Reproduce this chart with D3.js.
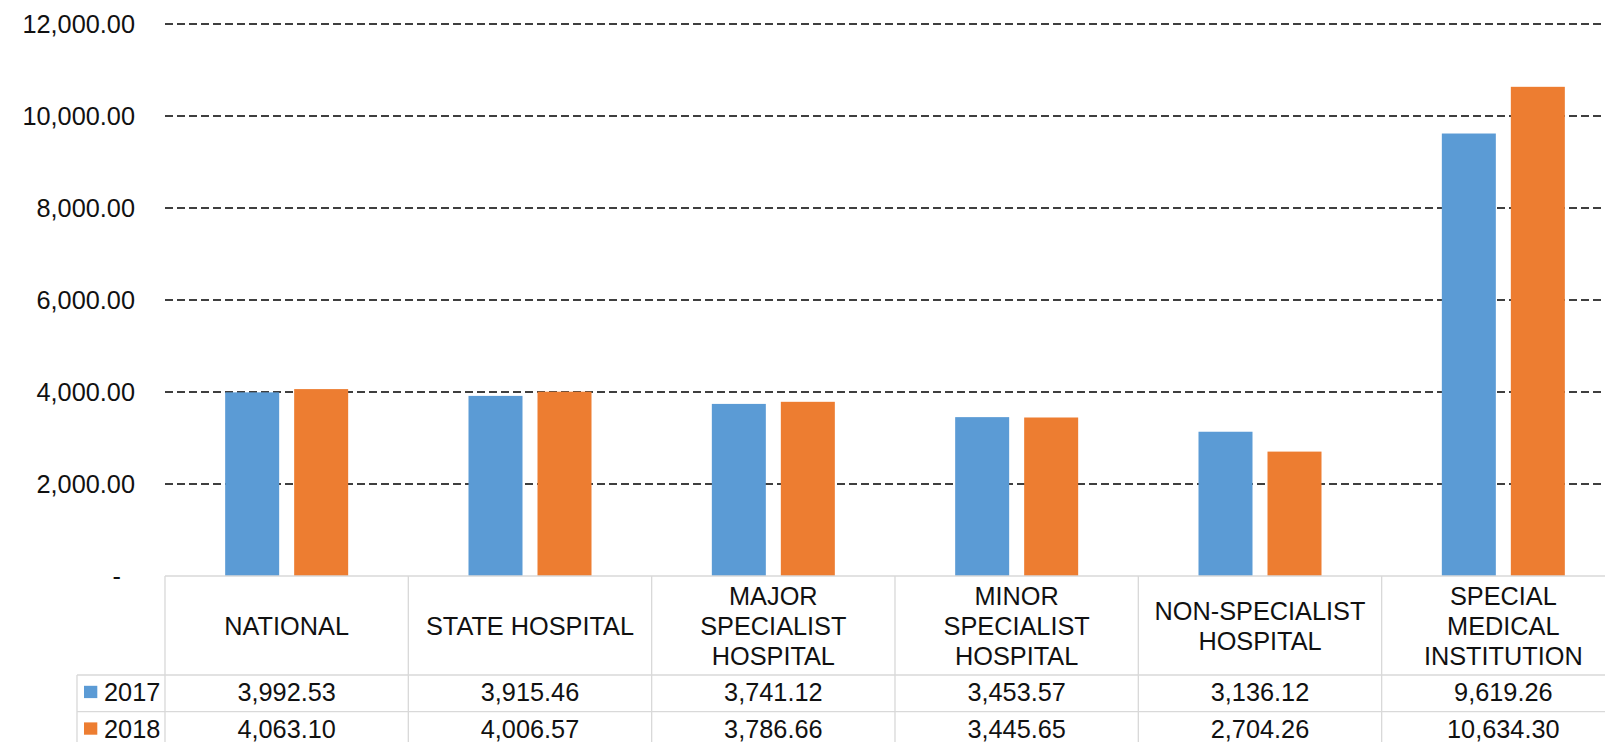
<!DOCTYPE html>
<html>
<head>
<meta charset="utf-8">
<script src="https://cdn.jsdelivr.net/npm/d3@7"></script>
<style>
  html, body { margin: 0; padding: 0; background: #fff; overflow: hidden; }
  svg { display: block; font-family: "Liberation Sans", Arial, sans-serif; }
</style>
</head>
<body>
<svg id="chart" width="1605" height="742"></svg>
<script>
const categories = [
  ["NATIONAL"],
  ["STATE HOSPITAL"],
  ["MAJOR", "SPECIALIST", "HOSPITAL"],
  ["MINOR", "SPECIALIST", "HOSPITAL"],
  ["NON-SPECIALIST", "HOSPITAL"],
  ["SPECIAL", "MEDICAL", "INSTITUTION"]
];
const seriesNames = ["2017", "2018"];
const values2017 = [3992.53, 3915.46, 3741.12, 3453.57, 3136.12, 9619.26];
const values2018 = [4063.10, 4006.57, 3786.66, 3445.65, 2704.26, 10634.30];
const tableLabels2017 = ["3,992.53", "3,915.46", "3,741.12", "3,453.57", "3,136.12", "9,619.26"];
const tableLabels2018 = ["4,063.10", "4,006.57", "3,786.66", "3,445.65", "2,704.26", "10,634.30"];
const yTicks = [0, 2000, 4000, 6000, 8000, 10000, 12000];
const yTickLabels = ["-", "2,000.00", "4,000.00", "6,000.00", "8,000.00", "10,000.00", "12,000.00"];
const colors = ["#5B9BD5", "#ED7D31"];

const seriesValues = [values2017, values2018];
const seriesTable = [tableLabels2017, tableLabels2018];

const svg = d3.select("#chart");
const plotLeft = 165, plotRight = 1625, plotTop = 24, plotBottom = 576;
const fontSize = 25.3;
const catKeys = categories.map(c => c.join(" "));

const x = d3.scaleBand().domain(catKeys).range([plotLeft, plotRight]).paddingInner(0).paddingOuter(0);
const groupW = 123;
const x1 = d3.scaleBand().domain(seriesNames)
  .range([(x.bandwidth() - groupW) / 2, (x.bandwidth() + groupW) / 2])
  .paddingInner(15 / 69).paddingOuter(0);
const y = d3.scaleLinear().domain([0, 12000]).range([plotBottom, plotTop]);

// gridlines
svg.append("g").selectAll("line")
  .data(yTicks.filter(d => d > 0))
  .join("line")
  .attr("x1", plotLeft).attr("x2", plotRight)
  .attr("y1", d => y(d)).attr("y2", d => y(d))
  .attr("stroke", "#000").attr("stroke-width", 1.3)
  .attr("stroke-dasharray", "8,4");

// y labels
svg.append("g").selectAll("text")
  .data(yTicks)
  .join("text")
  .attr("x", (d) => d === 0 ? 121 : 135)
  .attr("y", d => y(d))
  .attr("dy", "0.36em")
  .attr("text-anchor", "end")
  .attr("font-size", fontSize)
  .attr("fill", "#111")
  .text((d, i) => yTickLabels[i]);

// bars
const bars = [];
seriesNames.forEach((s, si) => {
  seriesValues[si].forEach((v, ci) => bars.push({ s, si, cat: catKeys[ci], v }));
});
svg.append("g").selectAll("rect")
  .data(bars)
  .join("rect")
  .attr("x", d => x(d.cat) + x1(d.s))
  .attr("width", x1.bandwidth())
  .attr("y", d => y(d.v))
  .attr("height", d => y(0) - y(d.v))
  .attr("fill", d => colors[d.si]);

// data table
const headerTop = plotBottom, headerBottom = 675, rowH = 36.6;
const rowTops = [headerBottom, headerBottom + rowH];
const tableBottom = headerBottom + 2 * rowH;
const legendLeft = 77;
const grid = svg.append("g").attr("stroke", "#d9d9d9").attr("stroke-width", 1.33);

grid.append("line").attr("x1", plotLeft).attr("x2", plotRight).attr("y1", headerTop).attr("y2", headerTop);
[headerBottom, headerBottom + rowH, tableBottom].forEach(yy => {
  grid.append("line").attr("x1", legendLeft).attr("x2", plotRight).attr("y1", yy).attr("y2", yy);
});
grid.append("line").attr("x1", legendLeft).attr("x2", legendLeft).attr("y1", headerBottom).attr("y2", tableBottom);
const vlines = catKeys.map(k => x(k)).concat([plotRight]);
grid.selectAll("line.v").data(vlines).join("line").attr("class", "v")
  .attr("x1", d => d).attr("x2", d => d).attr("y1", headerTop).attr("y2", tableBottom);

// header labels
const headerMid = (headerTop + headerBottom) / 2;
const lineH = 30;
const hdr = svg.append("g").attr("font-size", fontSize).attr("fill", "#111").attr("text-anchor", "middle");
categories.forEach((lines, ci) => {
  const cx = x(catKeys[ci]) + x.bandwidth() / 2;
  lines.forEach((ln, li) => {
    hdr.append("text")
      .attr("x", cx)
      .attr("y", headerMid + (li - (lines.length - 1) / 2) * lineH)
      .attr("dy", "0.36em")
      .text(ln);
  });
});

// rows
seriesNames.forEach((s, si) => {
  const mid = rowTops[si] + rowH / 2 - 1.2;
  svg.append("rect")
    .attr("x", 84).attr("y", mid - 6.3).attr("width", 13.3).attr("height", 12.3)
    .attr("fill", colors[si]);
  svg.append("text")
    .attr("x", 104).attr("y", mid).attr("dy", "0.36em")
    .attr("font-size", fontSize).attr("fill", "#111")
    .text(s);
  seriesTable[si].forEach((t, ci) => {
    svg.append("text")
      .attr("x", x(catKeys[ci]) + x.bandwidth() / 2)
      .attr("y", mid).attr("dy", "0.36em")
      .attr("text-anchor", "middle")
      .attr("font-size", fontSize).attr("fill", "#111")
      .text(t);
  });
});
</script>
</body>
</html>
